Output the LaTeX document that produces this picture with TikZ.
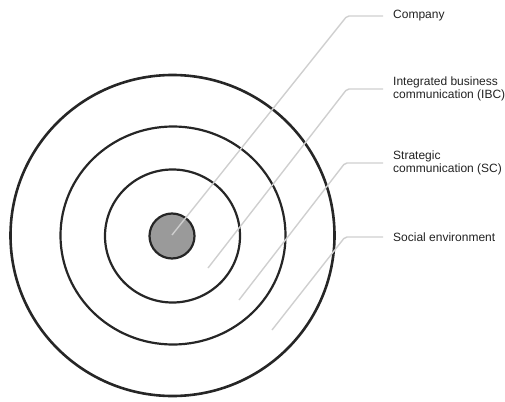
\documentclass[tikz,border=0pt]{standalone}
\usepackage{fontspec}
\setmainfont{Liberation Sans}
\usepackage{tikz}
\usetikzlibrary{shapes.geometric, positioning}
\definecolor{ringcol}{HTML}{262626}
\definecolor{leadcol}{HTML}{CFCFCF}
\definecolor{textcol}{HTML}{222222}
\definecolor{corecol}{HTML}{9A9A9A}
\tikzset{
    x=1pt, y=-1pt, % picture units are pixels, y runs downwards
    ring/.style={ellipse, draw=ringcol, line width=2.2pt, inner sep=0pt}, % sets the properties for each ring
    core/.style={circle, draw=ringcol, line width=2.2pt, fill=corecol, minimum size=45pt, inner sep=0pt},
    leader/.style={draw=leadcol, line width=1.4pt, rounded corners=2pt}, % the grey lines to the labels
    label text/.style={anchor=west, inner xsep=10pt, inner ysep=0pt, align=left, text=textcol,
        font=\fontsize{12}{13}\selectfont},
}
\begin{document}
\begin{tikzpicture}
                            \useasboundingbox (0,0) rectangle (505,401);
                            \node[ring, line width=2.6pt, minimum width=324pt, minimum height=321pt] (env) at (172.5,235.5) {};
                            \node[ring, minimum width=225pt, minimum height=218pt] (ibc) at (173,235.5) {};
                            \node[ring, minimum width=135pt, minimum height=133pt] (sc) at (172.5,236) {};
                            \node[core] (company) at (172,236) {};
                            \node[label text] (l1) at (383,16) {Company};
                            \node[label text] (l2) at (383,89) {Integrated business\\communication (IBC)};
                            \node[label text] (l3) at (383,163) {Strategic\\communication (SC)};
                            \node[label text] (l4) at (383,237) {Social environment};
                            \coordinate (s1) at (172,235);
                            \coordinate (s2) at (208,268);
                            \coordinate (s3) at (239,300);
                            \coordinate (s4) at (272,330);
                            \draw[leader] (s1) -- ([xshift=-36pt]l1.west) -- (l1.west);
                            \draw[leader] (s2) -- ([xshift=-36pt]l2.west) -- (l2.west);
                            \draw[leader] (s3) -- ([xshift=-38pt]l3.west) -- (l3.west);
                            \draw[leader] (s4) -- ([xshift=-38pt]l4.west) -- (l4.west);
                        \end{tikzpicture}
\end{document}
